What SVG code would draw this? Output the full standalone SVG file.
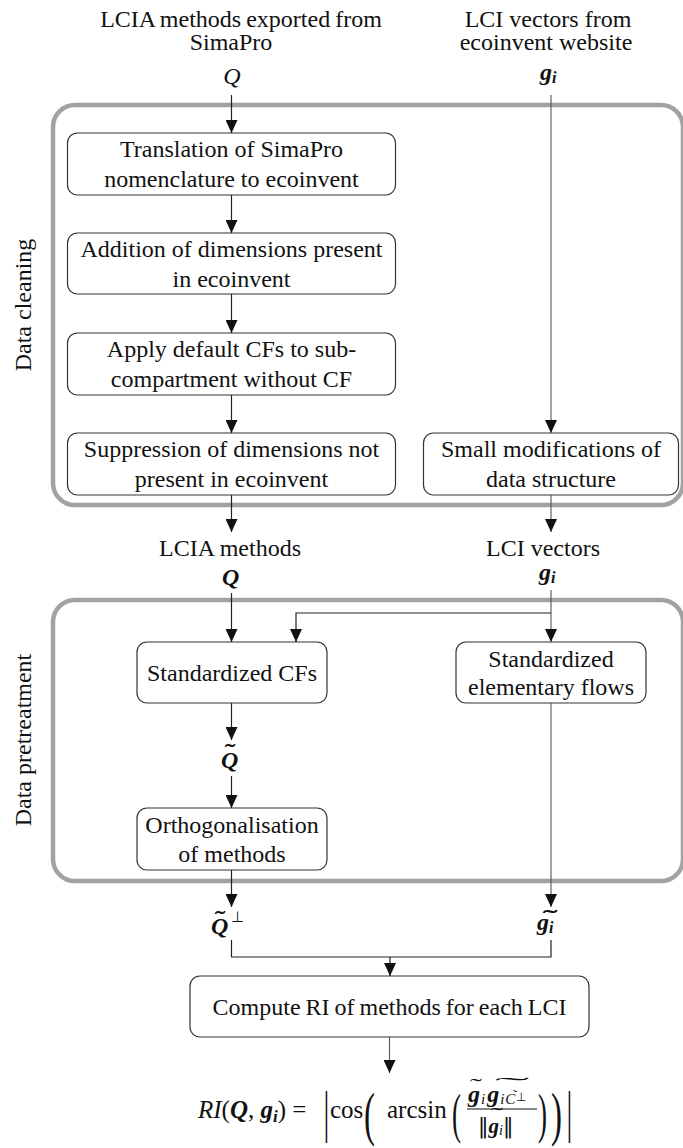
<svg xmlns="http://www.w3.org/2000/svg" width="683" height="1148" viewBox="0 0 683 1148">
<style>
text{font-family:"Liberation Serif","Times New Roman",serif;fill:#111;}
.t{font-size:24px;text-anchor:middle;}
.m{font-style:italic;}
.mb{font-style:italic;font-weight:bold;}
.box{fill:#fff;stroke:#333;stroke-width:1.2;}
.grp{fill:none;stroke:#a0a3a3;stroke-width:4.5;}
.ln{fill:none;stroke:#222;stroke-width:1.2;}
.ln2{fill:none;stroke:#555;stroke-width:1.1;}
.tl{font-size:20px;text-anchor:middle;}
.bar{font-family:"DejaVu Sans",sans-serif;}
</style>
<defs>
<marker id="a" markerUnits="userSpaceOnUse" markerWidth="14" markerHeight="12" refX="13" refY="6" orient="auto" viewBox="0 0 14 12">
<path d="M0 0 L13 6 L0 12 Z" fill="#111"/>
</marker>
</defs>

<!-- group frames -->
<g id="frame-cleaning">
<rect class="grp" x="53" y="105" width="630" height="400" rx="22"/>
<text class="t" transform="translate(31,305) rotate(-90)">Data cleaning</text>
</g>
<g id="frame-pretreatment">
<rect class="grp" x="53" y="600" width="630" height="281" rx="22"/>
<text class="t" transform="translate(31,740) rotate(-90)">Data pretreatment</text>
</g>

<!-- input labels -->
<g id="in-lcia">
<text class="t" x="241" y="27" font-size="23" word-spacing="-1">LCIA methods exported from</text>
<text class="t" x="231" y="50">SimaPro</text>
<text class="t m" x="232" y="84">Q</text>
</g>
<g id="in-lci">
<text class="t" x="548" y="27">LCI vectors from</text>
<text class="t" x="546" y="50">ecoinvent website</text>
<text class="mb" x="540" y="80" font-size="24">g<tspan font-size="16" dy="3">i</tspan></text>
</g>

<!-- nodes -->
<g id="n-translation">
<rect class="box" x="67.5" y="133" width="328" height="62" rx="10"/>
<text class="t" x="231.5" y="157">Translation  of SimaPro</text>
<text class="t" x="231.5" y="187">nomenclature to ecoinvent</text>
</g>
<g id="n-addition">
<rect class="box" x="67.5" y="233" width="328" height="61" rx="10"/>
<text class="t" x="231.5" y="257">Addition of dimensions present</text>
<text class="t" x="231.5" y="287">in ecoinvent</text>
</g>
<g id="n-apply">
<rect class="box" x="67.5" y="333" width="328" height="62" rx="10"/>
<text class="t" x="231.5" y="357">Apply default CFs to sub-</text>
<text class="t" x="231.5" y="387">compartment without CF</text>
</g>
<g id="n-suppression">
<rect class="box" x="67.5" y="433" width="328" height="62" rx="10"/>
<text class="t" x="231.5" y="457">Suppression of dimensions not</text>
<text class="t" x="231.5" y="487">present in ecoinvent</text>
</g>
<g id="n-small">
<rect class="box" x="423.5" y="433" width="255" height="62" rx="10"/>
<text class="t" x="551" y="457">Small modifications of</text>
<text class="t" x="551" y="487">data structure</text>
</g>

<g id="l-lcia">
<text class="t" x="230" y="556">LCIA methods</text>
<text class="mb" x="222" y="585" font-size="24">Q</text>
</g>
<g id="l-lci">
<text class="t" x="543" y="556">LCI vectors</text>
<text class="mb" x="539" y="580" font-size="24">g<tspan font-size="16" dy="3">i</tspan></text>
</g>

<g id="n-stdcf">
<rect class="box" x="137" y="642" width="190" height="61" rx="10"/>
<text class="t" x="232" y="681">Standardized CFs</text>
</g>
<g id="n-stdflow">
<rect class="box" x="456" y="642" width="190" height="61" rx="10"/>
<text class="t" x="551" y="667">Standardized</text>
<text class="t" x="551" y="695">elementary flows</text>
</g>

<g id="l-qtilde">
<text class="mb" x="221" y="768" font-size="24">Q</text>
<text class="tl" x="230" y="759" font-weight="bold" transform="translate(230,0) scale(1.6,1) translate(-230,0)">˜</text>
</g>

<g id="n-ortho">
<rect class="box" x="137" y="808" width="190" height="62" rx="10"/>
<text class="t" x="232" y="833">Orthogonalisation</text>
<text class="t" x="232" y="862">of methods</text>
</g>

<g id="l-qperp">
<text class="mb" x="211" y="934" font-size="24">Q</text>
<text class="tl" x="220" y="926" font-weight="bold" transform="translate(220,0) scale(1.6,1) translate(-220,0)">˜</text>
<text x="231" y="922" font-size="15">⊥</text>
</g>
<g id="l-gtilde">
<text class="mb" x="537" y="930" font-size="24">g<tspan font-size="16" dy="3">i</tspan></text>
<text class="tl" x="550" y="925" font-weight="bold" transform="translate(550,0) scale(2.2,1) translate(-550,0)">˜</text>
</g>

<g id="n-compute">
<rect class="box" x="190" y="976" width="399" height="61" rx="10"/>
<text class="t" x="389.5" y="1015" word-spacing="-1">Compute RI of methods for each LCI</text>
</g>

<g id="formula">
<text x="198" y="1118" font-size="25"><tspan class="m">RI</tspan>(<tspan class="mb">Q</tspan>, <tspan class="mb">g</tspan><tspan class="mb" font-size="17" dy="4">i</tspan><tspan dy="-4">) =</tspan></text>
<text x="322" y="1131" font-size="58" transform="translate(325,0) scale(0.5,1) translate(-325,0)">|</text>
<text x="330" y="1118" font-size="25">cos</text>
<text x="364" y="1134" font-size="60" transform="translate(364,0) scale(0.55,1) translate(-364,0)">(</text>
<text x="387" y="1118" font-size="25">arcsin</text>
<text x="452" y="1132" font-size="54" transform="translate(452,0) scale(0.5,1) translate(-452,0)">(</text>
<text x="468" y="1102" font-size="24"><tspan class="mb">g</tspan><tspan class="m" font-size="15" dy="2" dx="1">i</tspan><tspan class="mb" dy="-2" dx="2">g</tspan><tspan class="m" font-size="15" dy="2" dx="1">i</tspan><tspan class="m" font-size="15" dx="1">C</tspan><tspan font-size="12" dy="-3" dx="1">⊥</tspan></text>
<text class="tl" x="476" y="1093" transform="translate(476,0) scale(1.8,1) translate(-476,0)">˜</text>
<text class="tl" x="512" y="1092" transform="translate(512,0) scale(5.2,1) translate(-512,0)">˜</text>
<text x="515" y="1099" font-size="13" text-anchor="middle">˜</text>
<line x1="467" y1="1109" x2="537" y2="1109" stroke="#111" stroke-width="1.2"/>
<text x="478" y="1133" font-size="21"><tspan class="bar">‖</tspan><tspan class="mb">g</tspan><tspan class="m" font-size="14" dy="2">i</tspan><tspan class="bar" dy="-2">‖</tspan></text>
<text class="tl" x="497" y="1122" transform="translate(497,0) scale(1.8,1) translate(-497,0)">˜</text>
<text x="538" y="1132" font-size="54" transform="translate(538,0) scale(0.5,1) translate(-538,0)">)</text>
<text x="551" y="1134" font-size="60" transform="translate(551,0) scale(0.55,1) translate(-551,0)">)</text>
<text x="565" y="1131" font-size="58" transform="translate(568,0) scale(0.5,1) translate(-568,0)">|</text>
</g>

<!-- connectors -->
<g id="connectors">
<path class="ln" d="M231.5 95 V133" marker-end="url(#a)"/>
<path class="ln" d="M231.5 195 V233" marker-end="url(#a)"/>
<path class="ln" d="M231.5 294 V333" marker-end="url(#a)"/>
<path class="ln" d="M231.5 395 V433" marker-end="url(#a)"/>
<path class="ln2" d="M551 95 V433" marker-end="url(#a)"/>
<path class="ln" d="M231.5 495 V532" marker-end="url(#a)"/>
<path class="ln2" d="M551 495 V532" marker-end="url(#a)"/>
<path class="ln" d="M231.5 593 V642" marker-end="url(#a)"/>
<path class="ln2" d="M551 590 V642" marker-end="url(#a)"/>
<path class="ln" d="M551 613 H296 V642" marker-end="url(#a)"/>
<path class="ln" d="M231.5 703 V740" marker-end="url(#a)"/>
<path class="ln" d="M231.5 776 V808" marker-end="url(#a)"/>
<path class="ln" d="M231.5 870 V907" marker-end="url(#a)"/>
<path class="ln2" d="M551 703 V907" marker-end="url(#a)"/>
<path class="ln" d="M231.5 940 V957 H551 V940"/>
<path class="ln" d="M390 957 V976" marker-end="url(#a)"/>
<path class="ln2" d="M389.5 1037 V1073" marker-end="url(#a)"/>
</g>
</svg>
